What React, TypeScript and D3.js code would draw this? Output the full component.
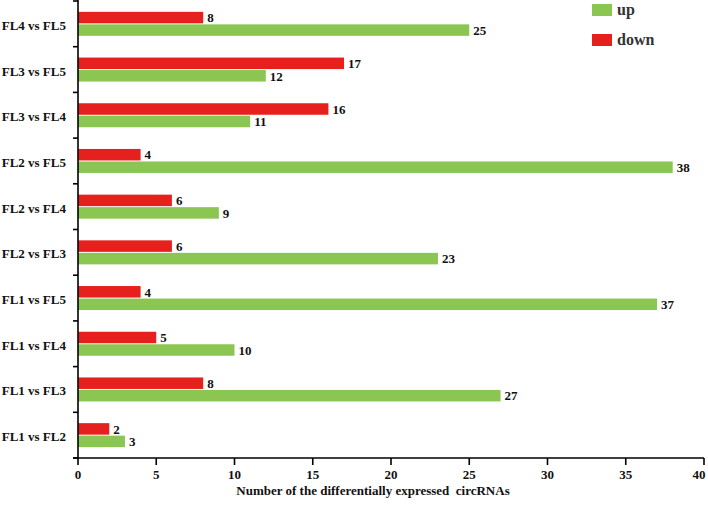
import React from "react";
import * as d3 from "d3";

const categories = ["FL1 vs FL2", "FL1 vs FL3", "FL1 vs FL4", "FL1 vs FL5", "FL2 vs FL3", "FL2 vs FL4", "FL2 vs FL5", "FL3 vs FL4", "FL3 vs FL5", "FL4 vs FL5"];
const upValues = [3, 27, 10, 37, 23, 9, 38, 11, 12, 25];
const downValues = [2, 8, 5, 4, 6, 6, 4, 16, 17, 8];
const xTicks = [0, 5, 10, 15, 20, 25, 30, 35, 40];
const seriesNames = ["up", "down"];

const W = 708, H = 507;
const GREEN = "#8cc652";
const RED = "#e5201d";
const FONT = "'Liberation Serif', 'Times New Roman', serif";

export default function App() {
  const x = d3.scaleLinear().domain([0, 40]).range([78, 704]);
  const y = d3.scaleBand<string>().domain([...categories].reverse()).range([1, 458]);
  const barH = 12;
  const bandEdges = d3.range(categories.length + 1).map((i) => 1 + i * y.step());

  return (
    <svg width={W} height={H} style={{ position: "absolute", left: 0, top: 0, background: "#fff" }} fontFamily={FONT}>
      {categories.map((c, i) => {
        const cy = (y(c) as number) + y.bandwidth() / 2;
        return (
          <g key={c}>
            <rect x={x(0)} y={cy - barH} width={x(downValues[i]) - x(0)} height={barH - 0.5} fill={RED} />
            <rect x={x(0)} y={cy + 0.5} width={x(upValues[i]) - x(0)} height={barH - 0.5} fill={GREEN} />
            <text x={x(downValues[i]) + 4} y={cy - barH / 2 + 4.5} fontSize={13} fontWeight="bold" fill="#111">{downValues[i]}</text>
            <text x={x(upValues[i]) + 4} y={cy + barH / 2 + 5} fontSize={13} fontWeight="bold" fill="#111">{upValues[i]}</text>
            <text x={66} y={cy + 6} fontSize={13} fontWeight="bold" textAnchor="end" fill="#111">{c}</text>
          </g>
        );
      })}
      {/* y axis */}
      <line x1={x(0)} x2={x(0)} y1={0} y2={458} stroke="#000" strokeWidth={1.6} />
      {bandEdges.map((e, i) => (
        <line key={i} x1={x(0) - 5} x2={x(0)} y1={e} y2={e} stroke="#000" strokeWidth={1.6} />
      ))}
      {/* x axis */}
      <line x1={x(0) - 5} x2={x(40)} y1={458} y2={458} stroke="#000" strokeWidth={1.6} />
      {xTicks.map((t) => (
        <g key={t}>
          <line x1={x(t)} x2={x(t)} y1={458} y2={465} stroke="#000" strokeWidth={1.6} />
          <text x={Math.min(x(t), 699)} y={479} fontSize={13} fontWeight="bold" textAnchor="middle" fill="#111">{t}</text>
        </g>
      ))}
      <text x={373} y={495} fontSize={13} fontWeight="bold" textAnchor="middle" fill="#111" style={{ whiteSpace: "pre" }}>
        Number of the differentially expressed  circRNAs
      </text>
      {/* legend */}
      {seriesNames.map((s, i) => (
        <g key={s}>
          <rect x={592} y={4 + i * 30} width={20} height={12} fill={i === 0 ? GREEN : RED} />
          <text x={617} y={15 + i * 30} fontSize={16} fontWeight="bold" fill="#333">{s}</text>
        </g>
      ))}
    </svg>
  );
}
